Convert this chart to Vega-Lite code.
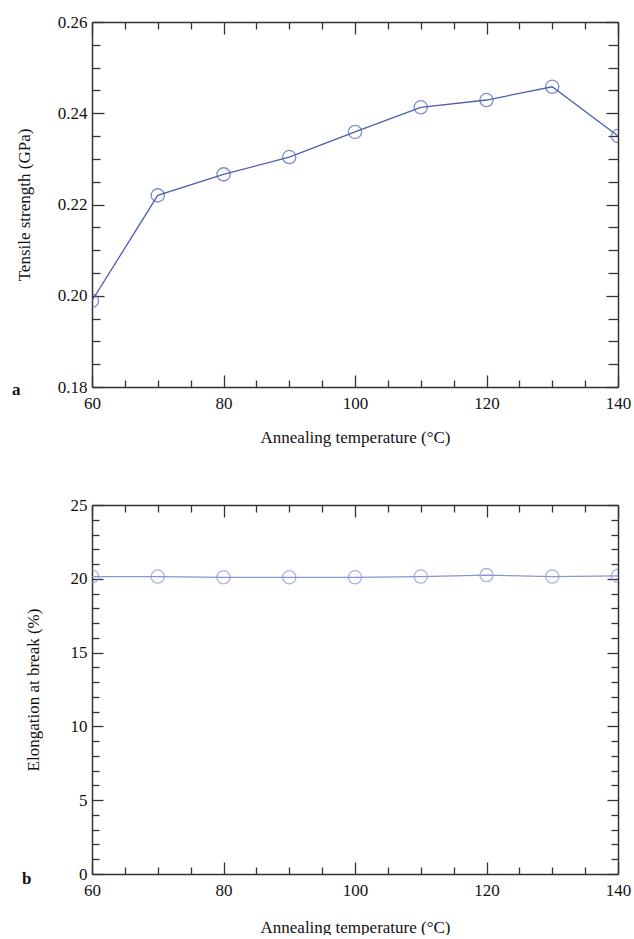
{
  "$schema": "https://vega.github.io/schema/vega-lite/v6.json",
  "background": "white",
  "padding": {"left": 12, "top": 13, "right": 5, "bottom": 0},
  "data": {"values": [
    {"T": 60, "TS": 0.1989, "EL": 20.15},
    {"T": 70, "TS": 0.2220, "EL": 20.15},
    {"T": 80, "TS": 0.2266, "EL": 20.1},
    {"T": 90, "TS": 0.2304, "EL": 20.1},
    {"T": 100, "TS": 0.2359, "EL": 20.1},
    {"T": 110, "TS": 0.2413, "EL": 20.15},
    {"T": 120, "TS": 0.2429, "EL": 20.25},
    {"T": 130, "TS": 0.2458, "EL": 20.15},
    {"T": 140, "TS": 0.2350, "EL": 20.2}
  ]},
  "bounds": "flush",
  "spacing": 118,
  "config": {
    "view": {"stroke": null},
    "font": "Liberation Serif",
    "axis": {
      "grid": false,
      "domainColor": "#333333",
      "domainWidth": 1.5,
      "tickColor": "#333333",
      "tickWidth": 1.3,
      "labelFont": "Liberation Serif",
      "labelFontSize": 17,
      "labelColor": "#111111",
      "titleFont": "Liberation Serif",
      "titleFontSize": 17,
      "titleFontWeight": "normal",
      "titleColor": "#111111"
    }
  },
  "vconcat": [
    {
      "width": 526,
      "height": 365,
      "title": {"text": "a", "orient": "bottom", "anchor": "start", "frame": "group", "fontSize": 17, "fontWeight": "bold", "font": "Liberation Serif", "color": "#111111", "dx": -80, "dy": -67},
      "layer": [
        {
          "mark": {"type": "line", "color": "#4c5fae", "strokeWidth": 1.3, "clip": true},
          "encoding": {
            "x": {"field": "T", "type": "quantitative", "scale": {"domain": [60, 140], "nice": false, "zero": false},
              "axis": {"orient": "bottom", "values": [60,65,70,75,80,85,90,95,100,105,110,115,120,125,130,135,140],
                "labelExpr": "datum.value % 20 == 0 ? datum.label : ''",
                "tickSize": {"condition": {"test": "datum.value % 20 == 0", "value": -12}, "value": -7},
                "labelPadding": 20, "labelFlush": false, "labelOverlap": false,
                "title": "Annealing temperature (°C)", "titlePadding": 13}},
            "y": {"field": "TS", "type": "quantitative", "scale": {"domain": [0.18, 0.26], "nice": false, "zero": false},
              "axis": {"orient": "left", "values": [0.18,0.185,0.19,0.195,0.2,0.205,0.21,0.215,0.22,0.225,0.23,0.235,0.24,0.245,0.25,0.255,0.26],
                "labelExpr": "abs(datum.value*50 - round(datum.value*50)) < 0.001 ? format(datum.value, '.2f') : ''",
                "tickSize": {"condition": {"test": "abs(datum.value*50 - round(datum.value*50)) < 0.001", "value": -12}, "value": -8},
                "labelPadding": 17, "labelFlush": false, "labelOverlap": false,
                "title": "Tensile strength (GPa)", "titlePadding": 24}}
          }
        },
        {
          "mark": {"type": "point", "shape": "circle", "size": 175, "filled": false, "color": "#4c5fae", "strokeWidth": 1.3, "clip": true},
          "encoding": {
            "x": {"field": "T", "type": "quantitative", "scale": {"domain": [60, 140], "nice": false, "zero": false},
              "axis": {"orient": "top", "values": [60,65,70,75,80,85,90,95,100,105,110,115,120,125,130,135,140],
                "labels": false, "title": null,
                "tickSize": {"condition": {"test": "datum.value % 20 == 0", "value": -12}, "value": -7}}},
            "y": {"field": "TS", "type": "quantitative", "scale": {"domain": [0.18, 0.26], "nice": false, "zero": false},
              "axis": {"orient": "right", "values": [0.18,0.185,0.19,0.195,0.2,0.205,0.21,0.215,0.22,0.225,0.23,0.235,0.24,0.245,0.25,0.255,0.26],
                "labels": false, "title": null,
                "tickSize": {"condition": {"test": "abs(datum.value*50 - round(datum.value*50)) < 0.001", "value": -12}, "value": -10}}}
          }
        }
      ],
      "resolve": {"axis": {"x": "independent", "y": "independent"}}
    },
    {
      "width": 526,
      "height": 369,
      "title": {"text": "b", "orient": "bottom", "anchor": "start", "frame": "group", "fontSize": 17, "fontWeight": "bold", "font": "Liberation Serif", "color": "#111111", "dx": -70, "dy": -68},
      "layer": [
        {
          "mark": {"type": "line", "color": "#8a93d4", "strokeWidth": 1.3, "clip": true},
          "encoding": {
            "x": {"field": "T", "type": "quantitative", "scale": {"domain": [60, 140], "nice": false, "zero": false},
              "axis": {"orient": "bottom", "values": [60,65,70,75,80,85,90,95,100,105,110,115,120,125,130,135,140],
                "labelExpr": "datum.value % 20 == 0 ? datum.label : ''",
                "tickSize": {"condition": {"test": "datum.value % 20 == 0", "value": -12}, "value": -7},
                "labelPadding": 20, "labelFlush": false, "labelOverlap": false,
                "title": "Annealing temperature (°C)", "titlePadding": 16}},
            "y": {"field": "EL", "type": "quantitative", "scale": {"domain": [0, 25], "nice": false, "zero": false},
              "axis": {"orient": "left", "values": [0,1,2,3,4,5,6,7,8,9,10,11,12,13,14,15,16,17,18,19,20,21,22,23,24,25],
                "labelExpr": "datum.value % 5 == 0 ? datum.label : ''",
                "tickSize": {"condition": {"test": "datum.value % 5 == 0", "value": -11}, "value": -7},
                "labelPadding": 16, "labelFlush": false, "labelOverlap": false,
                "title": "Elongation at break (%)", "titlePadding": 28}}
          }
        },
        {
          "mark": {"type": "point", "shape": "circle", "size": 175, "filled": false, "color": "#8a93d4", "strokeWidth": 1.3, "clip": true},
          "encoding": {
            "x": {"field": "T", "type": "quantitative", "scale": {"domain": [60, 140], "nice": false, "zero": false},
              "axis": {"orient": "top", "values": [60,65,70,75,80,85,90,95,100,105,110,115,120,125,130,135,140],
                "labels": false, "title": null,
                "tickSize": {"condition": {"test": "datum.value % 20 == 0", "value": -12}, "value": -7}}},
            "y": {"field": "EL", "type": "quantitative", "scale": {"domain": [0, 25], "nice": false, "zero": false},
              "axis": {"orient": "right", "values": [0,1,2,3,4,5,6,7,8,9,10,11,12,13,14,15,16,17,18,19,20,21,22,23,24,25],
                "labels": false, "title": null,
                "tickSize": {"condition": {"test": "datum.value % 5 == 0", "value": -11}, "value": -7}}}
          }
        }
      ],
      "resolve": {"axis": {"x": "independent", "y": "independent"}}
    }
  ]
}
